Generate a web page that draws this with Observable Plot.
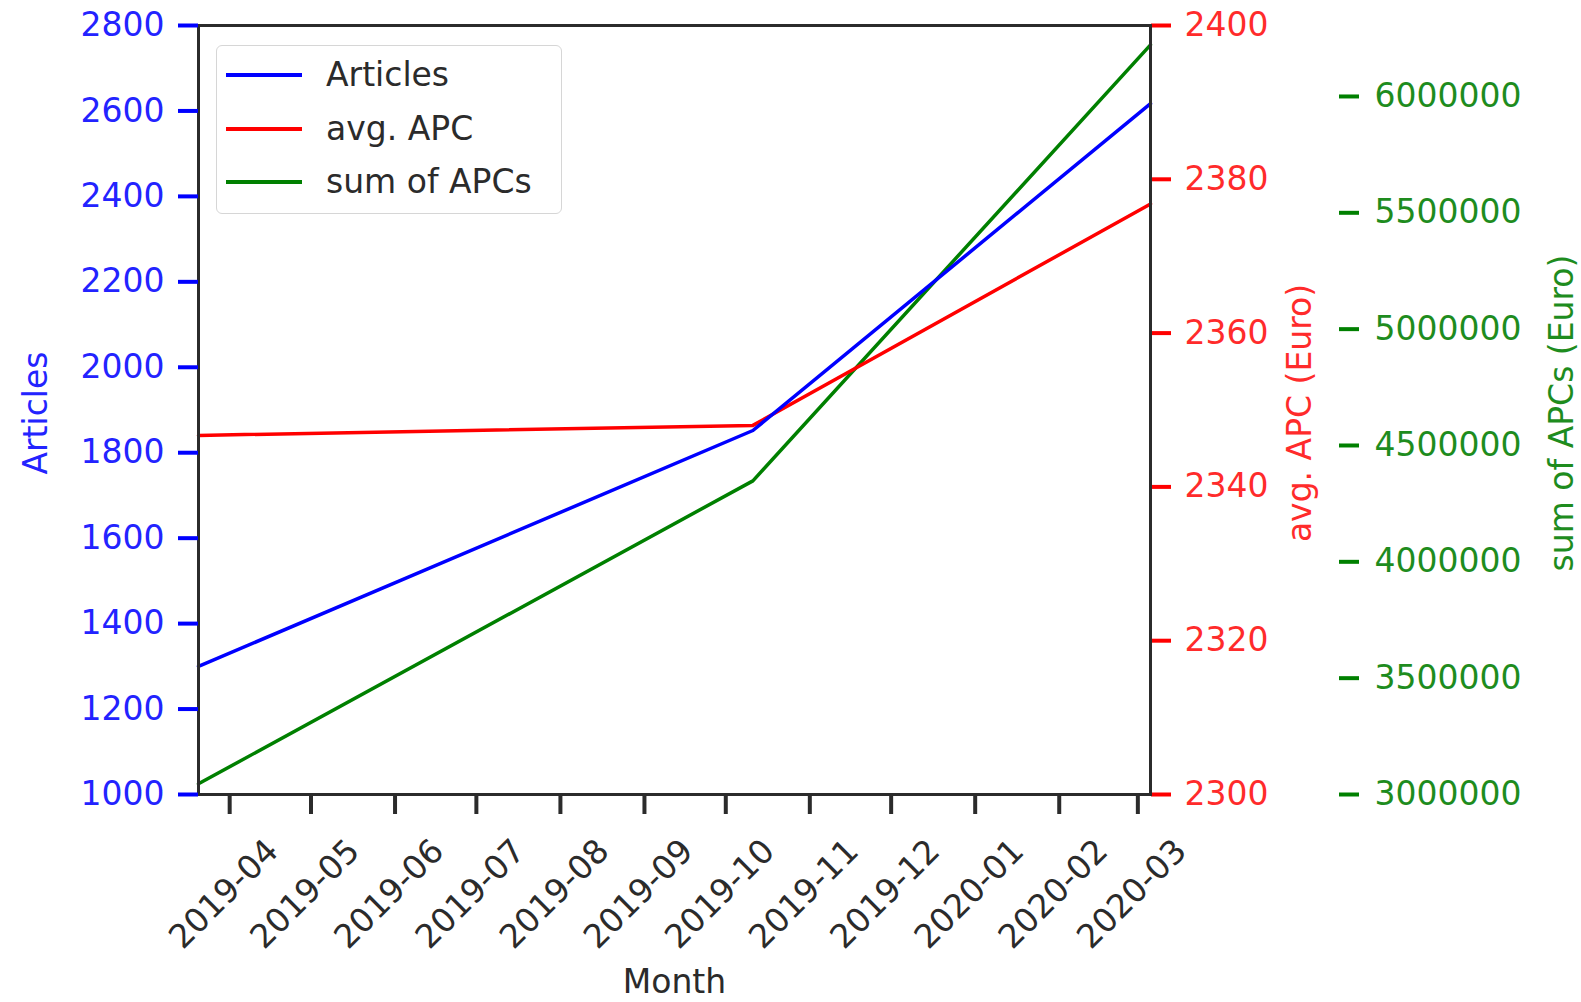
<!DOCTYPE html>
<html>
<head>
<meta charset="utf-8">
<script src="https://cdn.jsdelivr.net/npm/d3@7"></script>
<script src="https://cdn.jsdelivr.net/npm/@observablehq/plot@0.6"></script>
<style>
  body { margin: 0; background: #fff; font-family: "DejaVu Sans", sans-serif; }
  #chart { position: relative; width: 1581px; height: 1002px; overflow: hidden; }
  #chart svg { position: absolute; left: 0; top: 0; }
  #legend {
    position: absolute; left: 216px; top: 45px; width: 346px; height: 169px;
    border: 1.5px solid #d6d6d6; border-radius: 6px; background: rgba(255,255,255,0.85);
    box-sizing: border-box; font-family: "DejaVu Sans", sans-serif; font-size: 33px; color: #2b2b2b;
  }
  .entry { position: absolute; left: 0; height: 40px; width: 100%; }
  .entry .swatch { position: absolute; left: 9px; width: 76px; height: 4px; top: 18px; }
  .entry .lbl { position: absolute; left: 109px; top: 0; line-height: 40px; white-space: nowrap; }
</style>
</head>
<body>
<div id="chart"></div>
<script>
// ---- data ----
const dates = ["2019-03-20T12:00Z", "2019-10-11T00:00Z", "2020-03-05T16:00Z"];
const articles = [1300, 1852, 2617];
const avgAPC = [2346.7, 2348.0, 2376.8];
const sumAPCs = [3046000, 4348000, 6222000];

const tickLabels = ["2019-04", "2019-05", "2019-06", "2019-07", "2019-08", "2019-09",
                    "2019-10", "2019-11", "2019-12", "2020-01", "2020-02", "2020-03"];
const articleTicks = [1000, 1200, 1400, 1600, 1800, 2000, 2200, 2400, 2600, 2800];
const apcTicks = [2300, 2320, 2340, 2360, 2380, 2400];
const sumTicks = [3000000, 3500000, 4000000, 4500000, 5000000, 5500000, 6000000];
const seriesNames = ["Articles", "avg. APC", "sum of APCs"];
const seriesColors = ["blue", "red", "green"];
const labelColors = ["#2323ff", "#ff2b2b", "#1e8c1e"];

// ---- build ----
const rows = dates.map((d, i) => ({date: new Date(d), articles: articles[i], avg: avgAPC[i], sum: sumAPCs[i]}));
const tickDates = tickLabels.map(t => new Date(t + "-01T00:00Z"));
const xDomain = d3.extent(rows, d => d.date);

const W = 1581, H = 1002;
const common = {
  width: W, height: H,
  marginLeft: 198, marginRight: 431, marginTop: 25, marginBottom: 208,
  style: {background: "transparent", fontFamily: "DejaVu Sans", overflow: "visible"}
};
const FS = 33;
const ink = "#2b2b2b";

const blue = Plot.plot({
  ...common,
  x: {type: "utc", domain: xDomain, axis: null},
  y: {domain: [1000, 2800], axis: null},
  marks: [
    Plot.line(rows, {x: "date", y: "articles", stroke: seriesColors[0], strokeWidth: 3.5}),
    Plot.frame({stroke: ink, strokeWidth: 3}),
    Plot.axisX({ticks: tickDates, tickSize: 20, strokeWidth: 4, stroke: ink, tickFormat: () => "", label: null}),
    Plot.text(tickDates, {x: d => d, frameAnchor: "bottom", text: (d, i) => tickLabels[i],
      rotate: -45, textAnchor: "end", lineAnchor: "middle", dx: 43, dy: 51, fontSize: FS, fill: ink}),
    Plot.text(["Month"], {frameAnchor: "bottom", text: d => d, textAnchor: "middle", lineAnchor: "middle",
      dy: 188, fontSize: FS, fill: ink}),
    Plot.axisY({anchor: "left", ticks: articleTicks, tickSize: 20, tickPadding: 14, strokeWidth: 4,
      stroke: seriesColors[0], fill: labelColors[0], fontSize: FS, tickFormat: d => String(d), label: null}),
    Plot.text(["Articles"], {frameAnchor: "left", text: d => d, rotate: -90, textAnchor: "middle",
      lineAnchor: "middle", dx: -162, dy: 3, fontSize: FS, fill: labelColors[0]})
  ]
});

const red = Plot.plot({
  ...common,
  x: {type: "utc", domain: xDomain, axis: null},
  y: {domain: [2300, 2400], axis: null},
  marks: [
    Plot.line(rows, {x: "date", y: "avg", stroke: seriesColors[1], strokeWidth: 3.5}),
    Plot.axisY({anchor: "right", ticks: apcTicks, tickSize: 20, tickPadding: 14, strokeWidth: 4,
      stroke: seriesColors[1], fill: labelColors[1], fontSize: FS, tickFormat: d => String(d), label: null}),
    Plot.text(["avg. APC (Euro)"], {frameAnchor: "right", text: d => d, rotate: -90, textAnchor: "middle",
      lineAnchor: "middle", dx: 150, dy: 3, fontSize: FS, fill: labelColors[1]})
  ]
});

const green = Plot.plot({
  ...common,
  x: {type: "utc", domain: xDomain, axis: null},
  y: {domain: [3000000, 6305000], axis: null},
  marks: [
    Plot.line(rows, {x: "date", y: "sum", stroke: seriesColors[2], strokeWidth: 3.5}),
    Plot.axisY({anchor: "right", ticks: sumTicks, tickSize: 20, tickPadding: 16, strokeWidth: 4, dx: 188,
      stroke: seriesColors[2], fill: labelColors[2], fontSize: FS, tickFormat: d => String(d), label: null}),
    Plot.text(["sum of APCs (Euro)"], {frameAnchor: "right", text: d => d, rotate: -90, textAnchor: "middle",
      lineAnchor: "middle", dx: 412, dy: 3, fontSize: FS, fill: labelColors[2]})
  ]
});

const chart = document.getElementById("chart");
chart.append(green, red, blue);

// legend
const legend = document.createElement("div");
legend.id = "legend";
seriesNames.forEach((name, i) => {
  const e = document.createElement("div");
  e.className = "entry";
  e.style.top = (9 + i * 53.5) + "px";
  const sw = document.createElement("div");
  sw.className = "swatch";
  sw.style.background = seriesColors[i];
  const lb = document.createElement("div");
  lb.className = "lbl";
  lb.textContent = name;
  e.append(sw, lb);
  legend.append(e);
});
chart.append(legend);
</script>
</body>
</html>
